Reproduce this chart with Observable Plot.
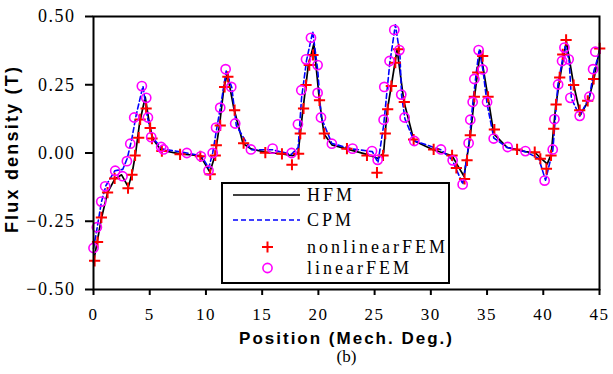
<!DOCTYPE html>
<html><head><meta charset="utf-8">
<script src="https://cdn.jsdelivr.net/npm/d3@7"></script>
<script src="https://cdn.jsdelivr.net/npm/@observablehq/plot@0.6"></script>
<style>
body{margin:0;background:#fff;}
#wrap{position:relative;width:613px;height:374px;overflow:hidden;}
#legend{position:absolute;left:221px;top:182px;}
#cap{position:absolute;top:349px;left:40px;width:613px;text-align:center;font-family:"Liberation Serif",serif;font-size:17px;line-height:15px;}
</style>
</head><body>
<div id="wrap"><div id="chart"></div><div id="legend"></div><div id="cap">(b)</div></div>
<script>
const xTicks = [0,5,10,15,20,25,30,35,40,45];
const yTicks = [-0.5,-0.25,0,0.25,0.5];
const xLabel = "Position (Mech. Deg.)";
const yLabel = "Flux density (T)";
const seriesNames = ["HFM","CPM","nonlinearFEM","linearFEM"];

const hfmX = [0,0.35,0.7,1.25,1.9,2.5,3.1,3.45,3.75,4.1,4.6,5.0,5.3,6.0,7.7,9.5,10.35,10.8,11.2,11.6,11.9,12.5,13.3,14.0,15.3,16.8,17.7,18.2,18.6,19.1,19.6,20.1,20.5,21.2,22.5,24.3,25.3,25.8,26.1,26.5,27.0,27.6,28.5,30.2,31.9,32.3,32.95,33.5,33.9,34.4,35.1,35.6,36.8,38.4,39.3,39.8,40.35,40.7,41.1,41.5,42.05,42.7,43.3,44.0,44.5,45.0];
const hfmY = [-0.40,-0.32,-0.24,-0.145,-0.095,-0.08,-0.125,-0.07,0.0,0.11,0.205,0.10,0.05,0.01,-0.003,-0.01,-0.07,-0.01,0.10,0.24,0.29,0.16,0.035,0.015,0.003,-0.003,-0.01,0.0,0.15,0.32,0.40,0.19,0.07,0.03,0.015,-0.005,-0.02,0.0,0.15,0.25,0.38,0.19,0.045,0.012,-0.01,-0.04,-0.085,0.06,0.21,0.375,0.20,0.07,0.02,0.005,0.0,-0.02,-0.04,-0.005,0.17,0.28,0.41,0.25,0.14,0.19,0.27,0.38];

const cpmX = [0,0.3,0.7,1.1,1.9,2.6,3.0,3.4,3.8,4.4,4.8,5.2,6.1,8.3,9.6,10.25,10.6,11.0,11.3,11.8,12.3,12.7,14.0,15.9,17.6,18.2,18.5,18.95,19.5,19.95,20.25,21.2,23.0,24.8,25.3,25.8,26.35,26.85,27.25,27.4,27.7,28.5,30.9,31.9,32.85,33.4,33.75,34.0,34.3,34.65,35.0,35.6,36.8,38.4,39.6,40.2,40.85,41.3,41.7,41.95,42.3,42.5,43.25,44.1,44.5,45.0];
const cpmY = [-0.35,-0.28,-0.18,-0.12,-0.065,-0.06,-0.02,0.05,0.14,0.245,0.13,0.06,0.015,0.0,-0.01,-0.055,0.0,0.10,0.17,0.30,0.24,0.10,0.012,0.012,-0.005,0.02,0.2,0.34,0.445,0.30,0.13,0.035,0.015,0.005,-0.035,0.10,0.33,0.47,0.36,0.21,0.125,0.045,0.012,-0.025,-0.115,0.04,0.19,0.28,0.38,0.30,0.18,0.055,0.02,0.005,-0.02,-0.10,0.01,0.25,0.34,0.39,0.34,0.20,0.135,0.205,0.30,0.37];

const nlX = [0.1,0.36,0.7,1.25,1.88,3.07,3.42,3.7,4.02,4.15,4.68,5.04,5.2,6.08,7.7,9.5,10.38,10.83,10.92,11.27,11.66,11.95,12.55,13.35,15.28,16.76,17.65,18.24,18.39,18.68,18.9,19.19,19.52,20.1,20.53,22.54,24.32,25.21,25.75,25.95,26.16,26.49,26.84,27.14,27.64,28.47,30.25,31.89,32.27,33.0,33.22,33.51,33.87,34.17,34.61,35.09,35.65,37.67,39.24,39.74,40.28,40.69,40.93,41.14,41.46,41.73,42.03,42.7,43.24,43.95,44.48,45.02];
const nlY = [-0.395,-0.326,-0.236,-0.145,-0.093,-0.129,-0.08,-0.009,0.056,0.123,0.163,0.092,0.053,0.007,-0.005,-0.012,-0.078,-0.009,0.028,0.101,0.242,0.279,0.157,0.036,0.001,-0.003,-0.043,-0.003,0.071,0.163,0.249,0.322,0.359,0.193,0.071,0.016,-0.009,-0.072,-0.009,0.071,0.160,0.245,0.331,0.380,0.187,0.049,0.013,-0.009,-0.055,-0.095,-0.027,0.065,0.206,0.295,0.355,0.206,0.086,0.013,0.003,-0.021,-0.058,-0.009,0.089,0.178,0.277,0.361,0.414,0.249,0.157,0.191,0.271,0.383];

const linX = [0,0.3,0.69,1.04,1.93,2.58,2.97,3.27,3.62,4.3,4.69,4.84,5.13,6.02,6.23,8.3,9.55,10.23,10.6,10.9,11.27,11.75,12.25,12.6,14.0,15.93,17.62,18.18,18.48,18.9,19.34,19.93,19.93,20.23,21.2,23.04,24.77,25.27,25.8,25.86,26.33,26.75,27.2,27.37,27.67,28.53,30.9,31.94,32.83,33.36,33.51,33.72,33.87,34.25,34.61,35.0,35.59,36.83,38.41,40.12,40.84,40.99,41.32,41.67,41.88,42.26,42.41,43.24,44.1,44.43,44.63];
const linY = [-0.348,-0.272,-0.178,-0.122,-0.065,-0.085,-0.030,0.034,0.130,0.245,0.202,0.130,0.058,0.022,0.013,0.0,-0.012,-0.064,0.0,0.093,0.166,0.307,0.242,0.108,0.013,0.016,0.0,0.105,0.230,0.343,0.422,0.322,0.220,0.130,0.034,0.016,0.007,-0.025,0.122,0.242,0.337,0.451,0.377,0.214,0.130,0.044,0.013,-0.027,-0.115,0.036,0.122,0.187,0.271,0.377,0.306,0.187,0.053,0.022,0.007,-0.101,0.013,0.124,0.251,0.337,0.386,0.343,0.202,0.136,0.206,0.307,0.371];

const zip = (xs, ys) => xs.map((x, i) => ({x, y: ys[i]}));
const hfm = zip(hfmX, hfmY), cpm = zip(cpmX, cpmY), nl = zip(nlX, nlY), lin = zip(linX, linY);

const serif = "'Liberation Serif', 'DejaVu Serif', serif";
const sans = "'Liberation Sans', Arial, sans-serif";

const chart = Plot.plot({
  width: 613, height: 343,
  marginLeft: 93, marginRight: 14, marginTop: 16, marginBottom: 54,
  style: {background: "#fff", color: "#000", overflow: "visible"},
  x: {domain: [0, 45]},
  y: {domain: [-0.5, 0.5]},
  marks: [
    Plot.axisX({ticks: xTicks, tickSize: 6, tickPadding: 12, strokeWidth: 2, label: null, fontSize: 17, fontFamily: serif, tickFormat: d => String(d)}),
    Plot.axisY({ticks: yTicks, tickSize: 8, tickPadding: 10, strokeWidth: 2, label: null, fontSize: 18, fontFamily: serif, tickFormat: d3.format(".2f")}),
    Plot.line(hfm, {x: "x", y: "y", stroke: "#000", strokeWidth: 1.7}),
    Plot.line(cpm, {x: "x", y: "y", stroke: "#0000ff", strokeWidth: 1.6, strokeDasharray: "5,3"}),
    Plot.dot(nl, {x: "x", y: "y", symbol: "plus", r: 3.7, stroke: "#ff0000", strokeWidth: 2}),
    Plot.dot(lin, {x: "x", y: "y", symbol: "circle", r: 4.6, stroke: "#ff00ff", strokeWidth: 1.6, fill: "none"}),
    Plot.frame({stroke: "#000", strokeWidth: 2}),
    Plot.text([xLabel], {frameAnchor: "bottom", textAnchor: "middle", lineAnchor: "middle", dy: 49, fontSize: 17, fontWeight: "bold", fontFamily: sans, fill: "#000"}),
    Plot.text([yLabel], {frameAnchor: "left", textAnchor: "middle", lineAnchor: "middle", rotate: -90, dx: -81, dy: -4, fontSize: 18, fontWeight: "bold", fontFamily: sans, fill: "#000"})
  ]
});
document.getElementById("chart").append(chart);
d3.select(chart).selectAll("g[aria-label='x-axis tick label'] text, g[aria-label='y-axis tick label'] text").style("letter-spacing", "1.5px");
const txt = d3.select(chart).selectAll("g[aria-label='text'] text");
txt.filter(function() { return this.textContent === xLabel; }).style("letter-spacing", "2px");
txt.filter(function() { return this.textContent === yLabel; }).style("letter-spacing", "2.2px");

// legend
const lg = d3.select("#legend").append("svg").attr("width", 230).attr("height", 103);
lg.append("rect").attr("x", 1).attr("y", 1).attr("width", 227).attr("height", 100).attr("fill", "#fff").attr("stroke", "#000").attr("stroke-width", 2);
const rowY = [13, 38, 65, 86];
lg.append("line").attr("x1", 12).attr("x2", 79).attr("y1", rowY[0]).attr("y2", rowY[0]).attr("stroke", "#000").attr("stroke-width", 1.7);
lg.append("line").attr("x1", 12).attr("x2", 79).attr("y1", rowY[1]).attr("y2", rowY[1]).attr("stroke", "#0000ff").attr("stroke-width", 1.6).attr("stroke-dasharray", "5,3");
lg.append("path").attr("d", `M41,${rowY[2]}h11M46.5,${rowY[2]-5.5}v11`).attr("stroke", "#ff0000").attr("stroke-width", 2);
lg.append("circle").attr("cx", 46.5).attr("cy", rowY[3]).attr("r", 4.6).attr("fill", "none").attr("stroke", "#ff00ff").attr("stroke-width", 1.6);
seriesNames.forEach((s, i) => {
  lg.append("text").attr("x", 86).attr("y", rowY[i]).attr("dy", "0.35em")
    .attr("font-family", serif).attr("font-size", 18).attr("letter-spacing", "3px").text(s);
});
</script>
</body></html>
